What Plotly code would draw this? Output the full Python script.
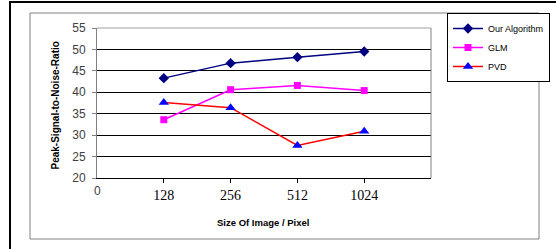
import plotly.graph_objects as go

categories = ["128", "256", "512", "1024"]
zero_label = "0"
our_algorithm = [43.3, 46.8, 48.2, 49.5]
glm = [33.6, 40.6, 41.6, 40.4]
pvd = [37.6, 36.4, 27.6, 30.9]
y_ticks = [20, 25, 30, 35, 40, 45, 50, 55]

W, H = 556, 249
L, R, T, B = 97, 431, 28, 178


def px(x):
    return (x - L) / (R - L)


def py(y):
    return (B - y) / (B - T)


xpos = [i + 1 for i in range(len(categories))]

fig = go.Figure()
fig.add_trace(go.Scatter(
    x=xpos, y=our_algorithm, name="Our Algorithm", mode="lines+markers",
    line=dict(color="#000080", width=1.5),
    marker=dict(symbol="diamond", size=8, color="#000080")))
fig.add_trace(go.Scatter(
    x=xpos, y=glm, name="GLM", mode="lines+markers",
    line=dict(color="#FF00FF", width=1.5),
    marker=dict(symbol="square", size=7, color="#FF00FF")))
fig.add_trace(go.Scatter(
    x=xpos, y=pvd, name="PVD", mode="lines+markers",
    line=dict(color="#FF0000", width=1.5),
    marker=dict(symbol="triangle-up", size=9, color="#0000FF")))

fig.update_layout(
    width=W, height=H,
    margin=dict(l=L, r=W - R, t=T, b=H - B, autoexpand=False),
    paper_bgcolor="white", plot_bgcolor="white",
    font=dict(family="Liberation Sans, Arial", size=11, color="#000000"),
    xaxis=dict(
        range=[0, 5], tickvals=xpos, ticktext=categories,
        showgrid=False, zeroline=False, automargin=False,
        showline=True, linecolor="#000000", linewidth=1,
        ticks="outside", ticklen=4, tickcolor="#000000",
        tickfont=dict(family="Liberation Serif, Times New Roman", size=14, color="#000000"),
    ),
    yaxis=dict(
        range=[20, 55], tickvals=y_ticks, automargin=False,
        showgrid=True, gridcolor="#000000", gridwidth=1, zeroline=False,
        showline=True, linecolor="#808080", linewidth=1,
        ticks="outside", ticklen=4, tickcolor="#808080",
        tickfont=dict(family="Liberation Sans, Arial", size=12, color="#404040"),
        ticklabelstandoff=4,
    ),
    legend=dict(
        x=px(447), y=py(13), xanchor="left", yanchor="top",
        bordercolor="#000000", borderwidth=1, bgcolor="white",
        font=dict(family="Liberation Sans, Arial", size=9, color="#000000"),
        itemwidth=30, tracegroupgap=0,
    ),
    showlegend=True,
)

shapes = [
    dict(type="rect", xref="paper", yref="paper", x0=px(10), x1=px(600), y0=py(300), y1=py(2),
         line=dict(color="#000000", width=2), layer="below"),
    dict(type="rect", xref="paper", yref="paper", x0=px(30), x1=px(539), y0=py(239), y1=py(13),
         line=dict(color="#808080", width=1), layer="below"),
    dict(type="line", xref="paper", yref="paper", x0=0, x1=1, y0=1, y1=1,
         line=dict(color="#A0A0A0", width=1), layer="above"),
    dict(type="line", xref="paper", yref="paper", x0=1, x1=1, y0=0, y1=1,
         line=dict(color="#808080", width=1), layer="above"),
]
fig.update_layout(shapes=shapes)

fig.add_annotation(x=0, y=py(200), xref="x", yref="paper", text=zero_label, showarrow=False,
                   font=dict(family="Liberation Sans, Arial", size=12, color="#404040"))
fig.add_annotation(x=px(47), y=py(106), xref="paper", yref="paper",
                   text="<b>Peak-Signal-to-Noise-Ratio</b>", textangle=-90, showarrow=False,
                   font=dict(family="Liberation Sans, Arial", size=10, color="#000000"))
fig.add_annotation(x=px(263), y=py(230), xref="paper", yref="paper",
                   text="<b>Size Of Image / Pixel</b>", showarrow=False,
                   font=dict(family="Liberation Sans, Arial", size=9.5, color="#000000"))

fig.write_html("out.html", config={"displayModeBar": False},
               post_script="document.body.style.margin='0';")
